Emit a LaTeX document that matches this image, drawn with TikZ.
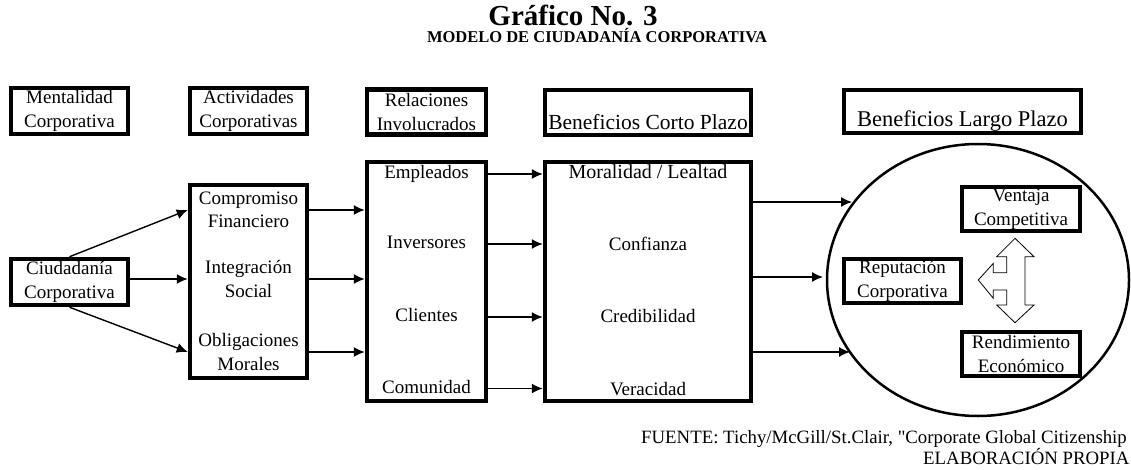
\documentclass[tikz,border=0pt]{standalone}
\usepackage{fontspec}
\setmainfont{Liberation Serif}
\usetikzlibrary{arrows.meta,shapes,positioning}

\begin{document}
\begin{tikzpicture}[x=1pt,y=-1pt,
    box/.style={draw,line width=4.5pt,inner sep=0pt,align=center,font=\fontsize{19}{23.5}\selectfont},
    lbl/.style={inner sep=0pt,align=center,font=\fontsize{19}{23.5}\selectfont},
    item/.style={lbl,text height=13pt,text depth=4pt},
    conn/.style={line width=1.4pt,-{Latex[length=11pt,width=10pt]}}]
  \useasboundingbox[fill=white] (0,0) rectangle (1131,470);
  % titulo
  \node[anchor=base,font=\fontsize{29}{32}\selectfont\bfseries] (titulo) at (573,26) {Gráfico No. 3};
  \node[anchor=base,font=\fontsize{16.5}{19}\selectfont\bfseries] (subtitulo) at (597,43) {MODELO DE CIUDADANÍA CORPORATIVA};
  % encabezados
  \node[box,minimum width=117pt,minimum height=46pt] (ment) at (69.5,111) {Mentalidad\\Corporativa};
  \node[box,minimum width=117pt,minimum height=46pt] (acth) at (248.5,111) {Actividades\\Corporativas};
  \node[box,minimum width=119pt,minimum height=45pt] (relh) at (426.5,112) {Relaciones\\Involucrados};
  \node[box,minimum width=206pt,minimum height=45pt,text height=38pt,text depth=3pt,
    font=\fontsize{21.5}{25}\selectfont] (corto) at (648,112.5) {Beneficios Corto Plazo};
  \node[box,minimum width=237pt,minimum height=43pt,text height=34pt,text depth=3pt,
    font=\fontsize{22.5}{26}\selectfont] (largoh) at (962.5,111.5) {Beneficios Largo Plazo};
  % columnas
  \node[box,minimum width=117pt,minimum height=46pt] (ciud) at (69.5,282) {Ciudadanía\\Corporativa};
  \node[box,minimum width=117pt,minimum height=193pt] (act) at (248.5,281.5) {};
  \node[lbl] (comp) at (248.5,210) {Compromiso\\Financiero};
  \node[lbl] (integ) at (248.5,279) {Integración\\Social};
  \node[lbl] (oblig) at (248.5,352) {Obligaciones\\Morales};
  \node[box,minimum width=119pt,minimum height=239pt] (rel) at (426.5,281.5) {};
  \node[item] (emp) at (426.5,174) {Empleados};
  \node[item] (inv) at (426.5,244) {Inversores};
  \node[item] (cli) at (426.5,317) {Clientes};
  \node[item] (com) at (426.5,388.5) {Comunidad};
  \node[box,minimum width=206pt,minimum height=239pt] (ben) at (648,281.5) {};
  \node[item,font=\fontsize{20}{23.5}\selectfont] (mor) at (648,174.5) {Moralidad / Lealtad};
  \node[item] (conf) at (648,245.5) {Confianza};
  \node[item] (cred) at (648,317.5) {Credibilidad};
  \node[item] (ver) at (648,390.5) {Veracidad};
  % largo plazo
  \node[draw,ellipse,line width=2.5pt,minimum width=302pt,minimum height=272pt] (largo) at (978,280) {};
  \node[box,minimum width=118pt,minimum height=44pt] (vent) at (1021,209) {Ventaja\\Competitiva};
  \node[box,minimum width=117pt,minimum height=44pt] (rep) at (902.5,281) {Reputación\\Corporativa};
  \node[box,minimum width=118pt,minimum height=44pt] (rend) at (1021,354) {Rendimiento\\Económico};
  \draw[line width=0.8pt,fill=white] (1015,238.3) -- (1034,256.7) -- (1025,256.7) -- (1025,305)
    -- (1034,305) -- (1015,322.7) -- (996.7,305) -- (1006.7,305) -- (1006.7,290) -- (993.3,290)
    -- (993.3,298.3) -- (978.3,280) -- (993.3,263.3) -- (993.3,272.7) -- (1006.7,272.7)
    -- (1006.7,256.7) -- (996.7,256.7) -- cycle;
  \coordinate (p1) at (852,202);
  \coordinate (p2) at (823,277);
  \coordinate (p3) at (850,352);
  % flechas
  \draw[conn] (ciud.north) -- (act.west |- comp);
  \draw[conn] (ciud.east |- integ) -- (act.west |- integ);
  \draw[conn] (ciud.south) -- (act.west |- oblig);
  \foreach \n in {comp,integ,oblig}
    \draw[conn] (act.east |- \n) -- (rel.west |- \n);
  \foreach \n in {emp,inv,cli,com}
    \draw[conn] (rel.east |- \n) -- (ben.west |- \n);
  \foreach \n in {p1,p2,p3}
    \draw[conn] (ben.east |- \n) -- (\n);
  % fuente
  \node[lbl,anchor=base west,font=\fontsize{18.8}{21}\selectfont] (fuente) at (641,443)
    {FUENTE: Tichy/McGill/St.Clair, \textquotedbl Corporate Global Citizenship};
  \node[lbl,anchor=base west,font=\fontsize{18.8}{21}\selectfont] (elab) at (923,464) {ELABORACIÓN PROPIA};
\end{tikzpicture}
\end{document}
